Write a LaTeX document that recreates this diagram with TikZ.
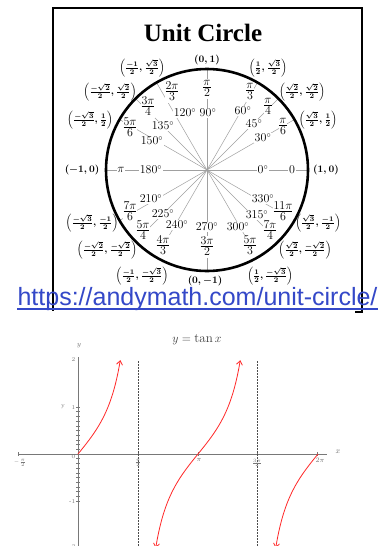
\documentclass[tikz,border=0pt]{standalone}
\usepackage{fontspec}
\usepackage{amsmath}
\usetikzlibrary{arrows.meta}
\newfontfamily\titlefont{Liberation Serif}
\newfontfamily\urlfont{Liberation Sans}
\definecolor{urlblue}{RGB}{52,72,200}
\definecolor{spoke}{RGB}{160,160,160}
\definecolor{axgray}{RGB}{120,120,120}
\definecolor{tanred}{RGB}{255,40,40}
\newcommand\rf[2]{$\renewcommand\arraystretch{0.55}\begin{array}{@{}c@{}}#1\\[-0.5pt]\hline\noalign{\vskip1pt}#2\end{array}$}
\newcommand\crd[2]{$\Bigl(\frac{#1}{2},\frac{#2}{2}\Bigr)$}
\tikzset{
  degl/.style={fill=white, inner sep=0.8pt, font=\fontsize{12}{14}\selectfont},
  radl/.style={fill=white, inner sep=0.8pt, font=\fontsize{12}{14}\selectfont},
  crdl/.style={inner sep=0pt, font=\fontsize{10}{12}\selectfont\boldmath},
  spk/.style={draw=spoke, line width=0.5pt},
  axl/.style={draw=axgray, line width=0.8pt},
  tickl/.style={text=axgray, inner sep=0.5pt, font=\fontsize{6}{7}\selectfont},
  asym/.style={draw=black!70, line width=0.5pt, dash pattern=on 1.5pt off 1.5pt},
  tanc/.style={draw=tanred, line width=0.8pt},
}
\begin{document}
\begin{tikzpicture}[x=1pt,y=-1pt]
\useasboundingbox (0,0) rectangle (389,546);
\fill[white] (0,0) rectangle (389,546);

% frame
\draw[line width=1.8pt] (355,312) -- (362,312) -- (362,8) -- (53,8) -- (53,311);
\node[font=\titlefont\bfseries\fontsize{25}{30}\selectfont, anchor=base, inner sep=0pt] (title) at (203,41) {Unit Circle};

% spokes
\coordinate (O) at (207,170);
\foreach \a in {0,30,45,60,90,120,135,150,180,210,225,240,270,300,315,330}
  \draw[spk] (O) -- ++(\a:101);

% degree labels
\node[degl] (d0) at (263,170) {0$^\circ$};
\node[degl] (d30) at (263,138) {30$^\circ$};
\node[degl] (d45) at (254,124) {45$^\circ$};
\node[degl] (d60) at (243,111) {60$^\circ$};
\node[degl] (d90) at (208,113) {90$^\circ$};
\node[degl] (d120) at (185,113) {120$^\circ$};
\node[degl] (d135) at (163,126) {135$^\circ$};
\node[degl] (d150) at (152,141) {150$^\circ$};
\node[degl] (d180) at (151,170) {180$^\circ$};
\node[degl] (d210) at (151,199) {210$^\circ$};
\node[degl] (d225) at (163,214) {225$^\circ$};
\node[degl] (d240) at (177,225) {240$^\circ$};
\node[degl] (d270) at (207,227) {270$^\circ$};
\node[degl] (d300) at (238,227) {300$^\circ$};
\node[degl] (d315) at (257,215) {315$^\circ$};
\node[degl] (d330) at (263,199) {330$^\circ$};

% radian labels
\node[radl] (r0) at (292,170) {$0$};
\node[radl] (r30) at (283,127) {\rf{\pi}{6}};
\node[radl] (r45) at (268,107) {\rf{\pi}{4}};
\node[radl] (r60) at (250,92) {\rf{\pi}{3}};
\node[radl] (r90) at (207,89) {\rf{\pi}{2}};
\node[radl] (r120) at (172,92) {\rf{2\pi}{3}};
\node[radl] (r135) at (148,107) {\rf{3\pi}{4}};
\node[radl] (r150) at (130,128) {\rf{5\pi}{6}};
\node[radl] (r180) at (121,170) {$\pi$};
\node[radl] (r210) at (130,212) {\rf{7\pi}{6}};
\node[radl] (r225) at (143,231) {\rf{5\pi}{4}};
\node[radl] (r240) at (163,246) {\rf{4\pi}{3}};
\node[radl] (r270) at (207,247) {\rf{3\pi}{2}};
\node[radl] (r300) at (250,246) {\rf{5\pi}{3}};
\node[radl] (r315) at (270,231) {\rf{7\pi}{4}};
\node[radl] (r330) at (283,212) {\rf{11\pi}{6}};

% circle
\draw[line width=2.6pt] (O) circle (101);

% coordinates
\node[crdl] (c0) at (326,170) {$(1,0)$};
\node[crdl] (c30) at (318,120) {\crd{\sqrt{3}}{1}};
\node[crdl] (c45) at (302,92) {\crd{\sqrt{2}}{\sqrt{2}}};
\node[crdl] (c60) at (268,68) {\crd{1}{\sqrt{3}}};
\node[crdl] (c90) at (207,60) {$(0,1)$};
\node[crdl] (c120) at (142,68) {\crd{-1}{\sqrt{3}}};
\node[crdl] (c135) at (110,92) {\crd{-\sqrt{2}}{\sqrt{2}}};
\node[crdl] (c150) at (90,120) {\crd{-\sqrt{3}}{1}};
\node[crdl] (c180) at (82,170) {$(-1,0)$};
\node[crdl] (c210) at (92,223) {\crd{-\sqrt{3}}{-1}};
\node[crdl] (c225) at (107,250) {\crd{-\sqrt{2}}{-\sqrt{2}}};
\node[crdl] (c240) at (142,276) {\crd{-1}{-\sqrt{3}}};
\node[crdl] (c270) at (205,281) {$(0,-1)$};
\node[crdl] (c300) at (270,276) {\crd{1}{-\sqrt{3}}};
\node[crdl] (c315) at (305,250) {\crd{\sqrt{2}}{-\sqrt{2}}};
\node[crdl] (c330) at (318,223) {\crd{\sqrt{3}}{-1}};

% url
\node[font=\urlfont\fontsize{25}{30}\selectfont, text=urlblue, anchor=base, inner sep=0pt] (url) at (197.5,305) {https://andymath.com/unit-circle/};
\draw[urlblue, line width=1.6pt] ([yshift=-3.8pt]url.base west) -- ([yshift=-3.8pt]url.base east);

% tan graph
\node[font=\fontsize{13}{15}\selectfont, text=black!75] (gtitle) at (197,340) {$y=\tan x$};
\draw[axl] (18,454) -- (327,454);
\draw[axl] (78,357) -- (78,546);
\foreach \i in {-10,...,10}
  \draw[axl, line width=0.5pt] (76,{454-4.7*\i}) -- (80,{454-4.7*\i});
\foreach \xx in {18,138,198,257,317}
  \draw[axl, line width=0.5pt] (\xx,452) -- (\xx,456);
\draw[asym] (138,361) -- (138,546);
\draw[asym] (257,361) -- (257,546);

\draw[tanc, -{Straight Barb[length=4pt,width=6pt]}] plot[domain=0:1.1071, samples=40] ({78+38.197*\x},{454-47*tan(\x r)});
\draw[tanc, {Straight Barb[length=4pt,width=6pt]}-{Straight Barb[length=4pt,width=6pt]}] plot[domain=2.0344:4.2487, samples=60] ({78+38.197*\x},{454-47*tan(\x r)});
\draw[tanc, {Straight Barb[length=4pt,width=6pt]}-] plot[domain=5.1760:6.2832, samples=40] ({78+38.197*\x},{454-47*tan(\x r)});

\node[tickl, anchor=east] (ty2) at (76,360) {2};
\node[tickl, anchor=east] (ty1) at (76,407) {1};
\node[tickl, anchor=east] (ty0) at (76,457) {0};
\node[tickl, anchor=east] (tym1) at (76,501) {-1};
\node[tickl, anchor=east] (tym2) at (76,546) {-2};
\node[tickl] (ylab2) at (63,407) {y};
\node[tickl, font=\fontsize{7}{8}\selectfont] (ylab) at (79,346) {$y$};
\node[tickl, font=\fontsize{8}{9}\selectfont] (xlab) at (338,452) {$x$};
\node[tickl, font=\fontsize{5}{6}\selectfont] (tx1) at (20,463) {$-\frac{\pi}{2}$};
\node[tickl, font=\fontsize{5}{6}\selectfont] (tx2) at (138,463) {$\frac{\pi}{2}$};
\node[tickl, font=\fontsize{7}{8}\selectfont] (tx3) at (199,460) {$\pi$};
\node[tickl, font=\fontsize{5}{6}\selectfont] (tx4) at (257,463) {$\frac{3\pi}{2}$};
\node[tickl, font=\fontsize{7}{8}\selectfont] (tx5) at (320,460) {$2\pi$};
\end{tikzpicture}
\end{document}
